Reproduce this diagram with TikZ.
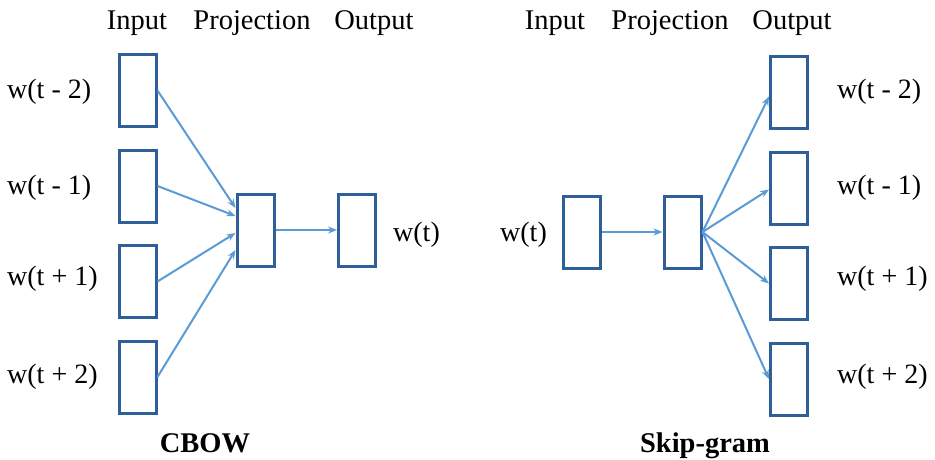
\documentclass[tikz,border=0pt]{standalone}
\usepackage{fontspec}
\setmainfont{Liberation Serif}
\usetikzlibrary{calc,arrows.meta}
\definecolor{boxblue}{HTML}{2F5F98}
\definecolor{arrblue}{HTML}{5B9BD5}
\begin{document}
\begin{tikzpicture}[x=1pt,y=-1pt,
  vbox/.style={draw=boxblue,line width=3pt,rectangle,inner sep=0pt,minimum width=37pt,minimum height=72pt},
  conn/.style={draw=arrblue,line width=2pt,-{Stealth[length=9pt,width=7pt]}},
  lbl/.style={font=\fontsize{28}{30}\selectfont,inner sep=0pt},
  hdr/.style={font=\fontsize{28.5}{30}\selectfont,inner sep=0pt,anchor=base},
  ttl/.style={font=\fontsize{28.5}{30}\selectfont\bfseries,inner sep=0pt,anchor=base}]
\useasboundingbox (0,0) rectangle (935,460);
% CBOW
\node[hdr] (h1) at (137,30) {Input};
\node[hdr] (h2) at (252,30) {Projection};
\node[hdr] (h3) at (374,30) {Output};
\node[vbox] (i1) at (137.5,90.5) {};
\node[vbox] (i2) at (137.5,186) {};
\node[vbox] (i3) at (137.5,281.5) {};
\node[vbox] (i4) at (137.5,377) {};
\node[vbox] (p) at (255.5,230) {};
\node[vbox] (o) at (357,230) {};
\node[lbl,anchor=west] (l1) at (7,91.5) {w(t - 2)};
\node[lbl,anchor=west] (l2) at (7,188) {w(t - 1)};
\node[lbl,anchor=west] (l3) at (7,279) {w(t + 1)};
\node[lbl,anchor=west] (l4) at (7,377) {w(t + 2)};
\node[lbl,anchor=west] (lo) at (393,235) {w(t)};
\draw[conn] (i1.east) -- ($(p.west)+(0,-22)$);
\draw[conn] (i2.east) -- ($(p.west)+(0,-14)$);
\draw[conn] (i3.east) -- ($(p.west)+(0,3)$);
\draw[conn] (i4.east) -- ($(p.west)+(0,20)$);
\draw[conn] (p.east) -- (o.west);
\node[ttl] (t1) at (205,452) {CBOW};
% Skip-gram
\node[hdr] (g1) at (555,30) {Input};
\node[hdr] (g2) at (670,30) {Projection};
\node[hdr] (g3) at (792,30) {Output};
\node[vbox] (si) at (581.5,232) {};
\node[vbox] (sp) at (682.5,232) {};
\node[vbox] (so1) at (789,92.5) {};
\node[vbox] (so2) at (789,188.5) {};
\node[vbox] (so3) at (789,283.5) {};
\node[vbox] (so4) at (789,379) {};
\node[lbl,anchor=west] (sl) at (500,235) {w(t)};
\node[lbl,anchor=west] (sl1) at (837,91.5) {w(t - 2)};
\node[lbl,anchor=west] (sl2) at (837,188) {w(t - 1)};
\node[lbl,anchor=west] (sl3) at (837,279) {w(t + 1)};
\node[lbl,anchor=west] (sl4) at (837,377) {w(t + 2)};
\draw[conn] (si.east) -- (sp.west);
\draw[conn] (sp.east) -- ($(so1.west)+(0,4)$);
\draw[conn] (sp.east) -- ($(so2.west)+(0,1)$);
\draw[conn] (sp.east) -- (so3.west);
\draw[conn] (sp.east) -- (so4.west);
\node[ttl] (t2) at (705,452) {Skip-gram};
\end{tikzpicture}
\end{document}
